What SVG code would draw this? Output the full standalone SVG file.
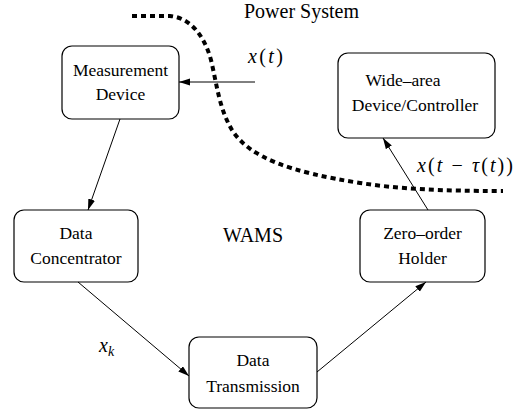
<svg xmlns="http://www.w3.org/2000/svg" width="526" height="410" viewBox="0 0 526 410">
<style>
.box{fill:#fff;stroke:#000;stroke-width:1.2}
.t{font-family:'Liberation Serif','DejaVu Serif',serif;font-size:17.5px;fill:#000;text-anchor:middle}
.lbl{font-family:'Liberation Serif','DejaVu Serif',serif;font-size:20px;fill:#000}
.m{font-family:'Liberation Serif','DejaVu Serif',serif;font-size:20px;fill:#000}
.i{font-style:italic}
.c{fill:none;stroke:#000;stroke-width:1}
.dot{fill:none;stroke:#000;stroke-width:4;stroke-dasharray:5 4}
</style>
<defs>
<marker id="ah" markerUnits="userSpaceOnUse" markerWidth="12" markerHeight="8" refX="11" refY="3.5" orient="auto">
<path d="M0,0 L11,3.5 L0,7 z" fill="#000"/>
</marker>
</defs>
<path class="dot" d="M132,16 L170,16 C192,18 205,38 211,60 C217,85 219,108 232,130 C250,158 290,172 360,183 C400,189 440,191 503,191"/>
<text class="lbl" x="244" y="18">Power System</text>
<text class="lbl" x="223" y="242">WAMS</text>
<g id="measurement">
<rect class="box" x="62" y="46" width="117" height="73" rx="10"/>
<text class="t" x="120.5" y="76">Measurement</text>
<text class="t" x="120.5" y="100">Device</text>
</g>
<g id="concentrator">
<rect class="box" x="14" y="210" width="124" height="72" rx="10"/>
<text class="t" x="76" y="239">Data</text>
<text class="t" x="76" y="264">Concentrator</text>
</g>
<g id="transmission">
<rect class="box" x="189" y="337" width="128" height="71" rx="10"/>
<text class="t" x="253" y="366">Data</text>
<text class="t" x="253" y="392">Transmission</text>
</g>
<g id="holder">
<rect class="box" x="360" y="210" width="125" height="72" rx="10"/>
<text class="t" x="422.5" y="239">Zero–order</text>
<text class="t" x="422.5" y="264">Holder</text>
</g>
<g id="controller">
<rect class="box" x="338" y="53" width="157" height="85" rx="10"/>
<text class="t" x="403" y="86">Wide–area</text>
<text class="t" x="415" y="111">Device/Controller</text>
</g>
<g id="connectors">
<line class="c" x1="255" y1="82" x2="179" y2="82" marker-end="url(#ah)"/>
<line class="c" x1="120" y1="119" x2="88" y2="210" marker-end="url(#ah)"/>
<line class="c" x1="78" y1="282" x2="189" y2="376" marker-end="url(#ah)"/>
<line class="c" x1="317" y1="372" x2="426" y2="282" marker-end="url(#ah)"/>
<line class="c" x1="428" y1="210" x2="383" y2="138" marker-end="url(#ah)"/>
</g>
<text class="m" x="248" y="63" textLength="35" lengthAdjust="spacing"><tspan class="i">x</tspan>(<tspan class="i">t</tspan>)</text>
<text class="m" x="99" y="352"><tspan class="i">x</tspan><tspan class="i" font-size="14" dy="4">k</tspan></text>
<text class="m" x="417" y="172" textLength="96" lengthAdjust="spacing"><tspan class="i">x</tspan>(<tspan class="i">t</tspan> − <tspan class="i">τ</tspan>(<tspan class="i">t</tspan>))</text>
</svg>
